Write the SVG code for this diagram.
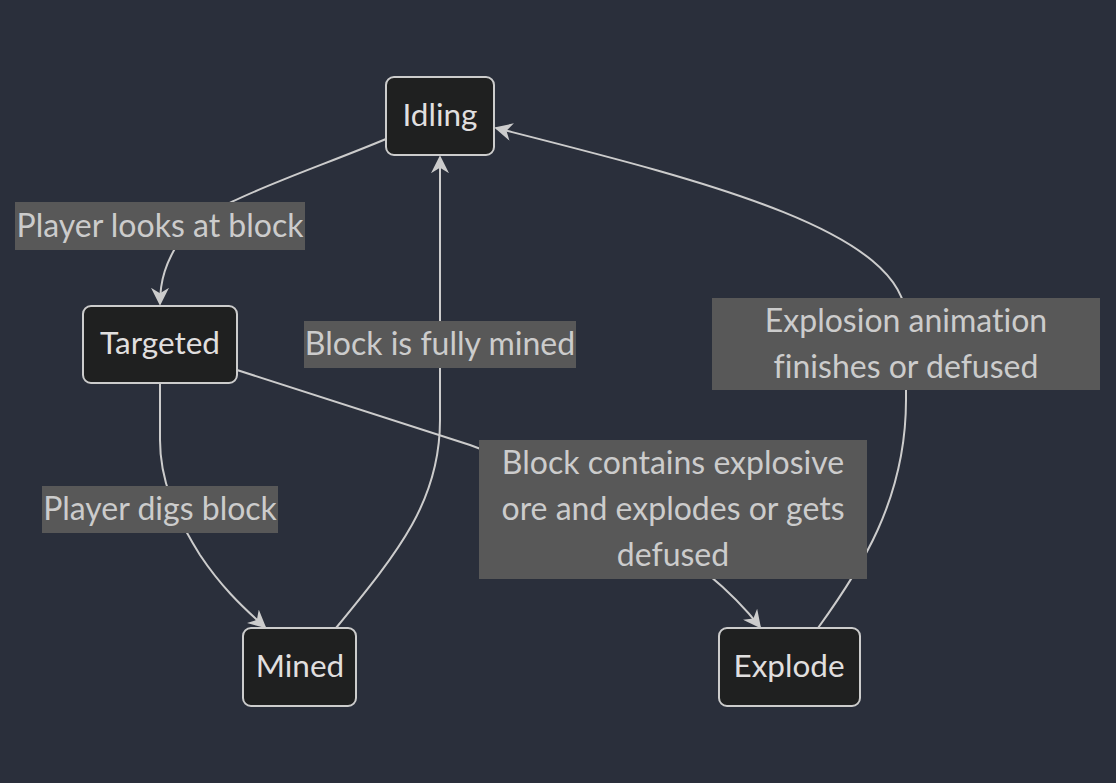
<svg xmlns="http://www.w3.org/2000/svg" width="1116" height="783" viewBox="0 0 1116 783">
<defs>
<style>
.node rect{fill:#1f2020;stroke:#cccccc;stroke-width:2}
.node text{fill:#e0dfdf;font-family:Lato,"DejaVu Sans",sans-serif;font-size:31.5px;text-anchor:middle;dominant-baseline:central;font-variant-ligatures:none}
.edge{fill:none;stroke:#cccccc;stroke-width:2}
.lbl rect{fill:#585858}
.lbl text{fill:#cccccc;font-family:Lato,"DejaVu Sans",sans-serif;font-size:32px;text-anchor:middle;dominant-baseline:central;font-variant-ligatures:none}
</style>
<marker id="arr" viewBox="0 0 10 10" refX="9" refY="5" markerWidth="18" markerHeight="18" markerUnits="userSpaceOnUse" orient="auto">
<path d="M0,0 L10,5 L0,10 L3,5 z" fill="#cccccc"/>
</marker>
</defs>
<rect width="1116" height="783" fill="#2a2f3b"/>
<g id="connectors">
<path class="edge" d="M386,139 C300,175 200,205 180,240 C166,262 160,280 160,304" marker-end="url(#arr)"/>
<path class="edge" d="M160,383 L160,440 C160,480 175,515 200,555 C220,585 240,605 265,627" marker-end="url(#arr)"/>
<path class="edge" d="M336,628 C400,550 440,500 440,420 L440,157" marker-end="url(#arr)"/>
<path class="edge" d="M237,370 L470,445 C580,485 700,550 760,627" marker-end="url(#arr)"/>
<path class="edge" d="M818,628 C860,570 906,500 906,400 L906,320 C906,230 700,180 496,128" marker-end="url(#arr)"/>
</g>
<g id="label-looks" class="lbl"><rect x="15" y="202" width="290" height="48"/><text x="160" y="224">Player looks at block</text></g>
<g id="label-mined" class="lbl"><rect x="304" y="321" width="272" height="47"/><text x="440" y="342">Block is fully mined</text></g>
<g id="label-digs" class="lbl"><rect x="42" y="486" width="236" height="47"/><text x="160" y="507">Player digs block</text></g>
<g id="label-explosive" class="lbl"><rect x="479" y="440" width="388" height="139"/><text x="673" y="461">Block contains explosive</text><text x="673" y="507">ore and explodes or gets</text><text x="673" y="553">defused</text></g>
<g id="label-animation" class="lbl"><rect x="712" y="298" width="388" height="92"/><text x="906" y="319">Explosion animation</text><text x="906" y="365">finishes or defused</text></g>
<g id="node-idling" class="node"><rect x="386" y="77" width="108" height="78" rx="8"/><text x="440" y="114">Idling</text></g>
<g id="node-targeted" class="node"><rect x="83" y="306" width="154" height="77" rx="8"/><text x="160" y="342">Targeted</text></g>
<g id="node-mined" class="node"><rect x="243" y="628" width="113" height="78" rx="8"/><text x="300" y="665">Mined</text></g>
<g id="node-explode" class="node"><rect x="719" y="628" width="141" height="78" rx="8"/><text x="789" y="665">Explode</text></g>
</svg>
